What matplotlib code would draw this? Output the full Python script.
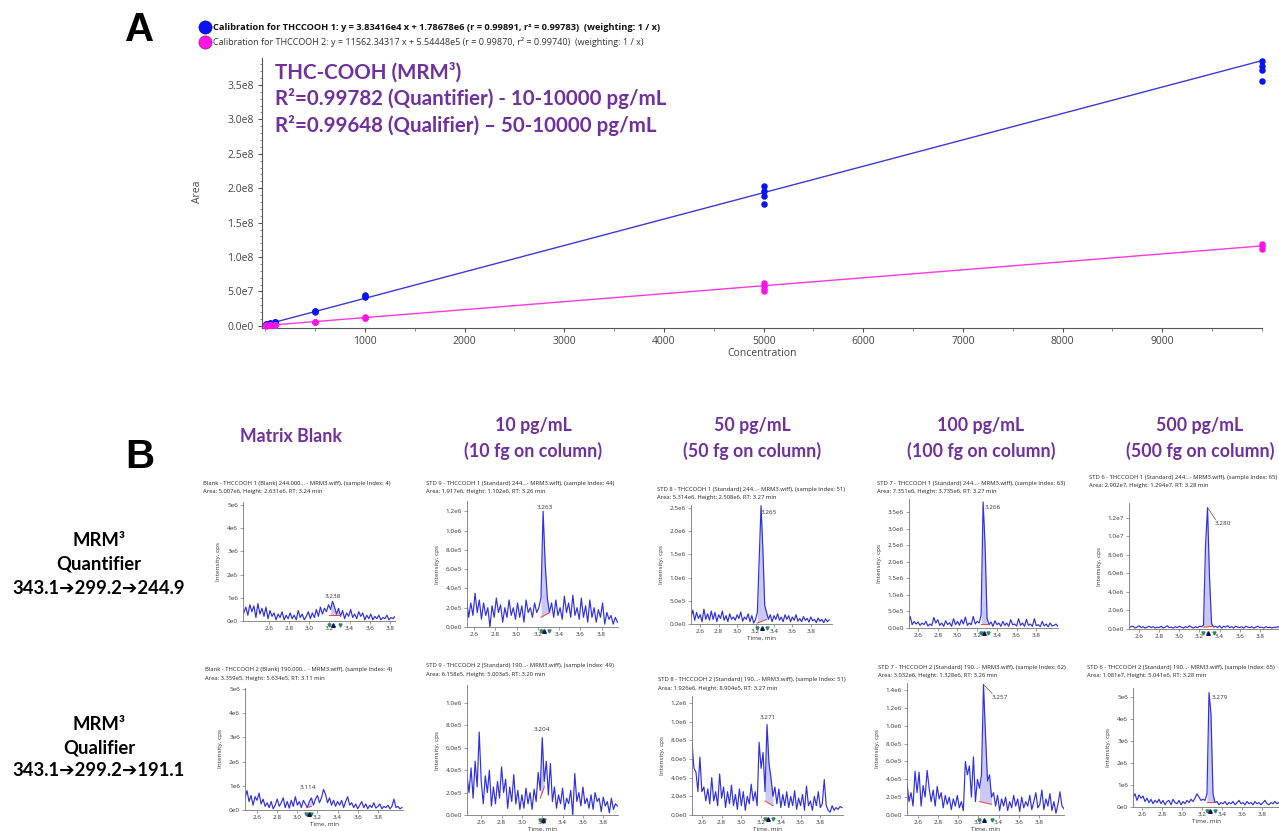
import numpy as np
import matplotlib
matplotlib.use("Agg")
import matplotlib.pyplot as plt
from matplotlib.ticker import FixedLocator, FuncFormatter, MultipleLocator

W, H = 1279, 831
UI = ["Open Sans", "DejaVu Sans"]
HEAD = ["Lato", "DejaVu Sans"]
PURPLE = "#7030a0"

# ---------------- calibration data (panel A) ----------------
quant_slope, quant_intercept = 3.83416e4, 1.78678e6
qual_slope, qual_intercept = 11562.34317, 5.54448e5
quant_conc = [10, 10, 10, 50, 50, 50, 100, 100, 100, 500, 500, 500,
              1000, 1000, 1000, 5000, 5000, 5000, 5000, 10000, 10000, 10000, 10000]
quant_area = [1.9e6, 2.2e6, 2.1e6, 3.6e6, 3.8e6, 3.4e6, 5.3e6, 5.6e6, 5.0e6,
              20.5e6, 21.8e6, 21.0e6, 41.5e6, 44.0e6, 45.5e6,
              177e6, 189e6, 196e6, 203e6, 355e6, 371e6, 377e6, 385e6]
qual_conc = [10, 10, 50, 50, 50, 100, 100, 100, 500, 500, 500,
             1000, 1000, 1000, 5000, 5000, 5000, 5000, 10000, 10000, 10000]
qual_area = [0.6e6, 0.8e6, 1.1e6, 1.2e6, 1.0e6, 1.7e6, 1.8e6, 1.6e6, 5.6e6, 6.0e6, 6.3e6,
             11.0e6, 12.2e6, 13.0e6, 50e6, 54e6, 58e6, 62e6, 112e6, 116e6, 119e6]
calib_xticks = [1000, 2000, 3000, 4000, 5000, 6000, 7000, 8000, 9000]
calib_yticks = [0, 5e7, 1e8, 1.5e8, 2e8, 2.5e8, 3e8, 3.5e8]

legend_lines = [
    "Calibration for THCCOOH 1: y = 3.83416e4 x + 1.78678e6 (r = 0.99891, r\u00b2 = 0.99783)  (weighting: 1 / x)",
    "Calibration for THCCOOH 2: y = 11562.34317 x + 5.54448e5 (r = 0.99870, r\u00b2 = 0.99740)  (weighting: 1 / x)",
]
summary_lines = [
    "THC-COOH (MRM\u00b3)",
    "R\u00b2=0.99782 (Quantifier) - 10-10000 pg/mL",
    "R\u00b2=0.99648 (Qualifier) \u2013 50-10000 pg/mL",
]

# ---------------- chromatograms (panel B) ----------------
SCAN_STEP = 0.02  # min between scans

column_titles = ["Matrix Blank", "10 pg/mL\n(10 fg on column)", "50 pg/mL\n(50 fg on column)",
                 "100 pg/mL\n(100 fg on column)", "500 pg/mL\n(500 fg on column)"]
row_titles = ["MRM\u00b3\nQuantifier\n343.1\u2794299.2\u2794244.9",
              "MRM\u00b3\nQualifier\n343.1\u2794299.2\u2794191.1"]

# Quantifier traces (intensity in units of 1e5 cps unless noted)
q_blank = [3.5, 6.0, 2.5, 7.0, 4.0, 6.5, 1.5, 7.5, 3.0, 5.5, 2.0, 6.0,
           1.0, 4.5, 2.0, 3.5, 0.5, 3.0, 1.5, 4.0, 0.5, 2.5, 1.0, 3.5,
           1.0, 2.5, 0.5, 4.5, 1.5, 3.0, 0.5, 2.0, 4.0, 1.0, 3.5, 1.5,
           5.0, 2.0, 6.0, 3.0, 5.5, 4.0, 7.0, 5.0, 8.5, 6.0, 3.0, 5.5,
           2.0, 4.5, 1.0, 3.5, 2.0, 5.0, 1.5, 3.0, 1.0, 4.0, 2.0, 3.5,
           0.5, 2.5, 1.0, 3.0, 0.5, 2.0, 1.0, 2.5, 0.5, 1.5, 1.0, 2.5,
           0.5, 1.5, 1.0, 2.0]
q_10 = [2.8, 1.0, 2.5, 1.2, 3.5, 1.5, 2.8, 0.8, 2.5, 1.2, 2.0, 0.0,
        2.2, 1.0, 3.0, 1.5, 2.3, 0.5, 2.0, 1.0, 2.8, 1.2, 2.0, 0.8,
        2.5, 1.0, 2.2, 0.5, 2.8, 1.5, 2.0, 1.0, 2.5, 1.5, 2.0, 3.0,
        12.0, 6.5, 3.0, 1.5, 2.5, 1.0, 2.8, 1.2, 2.0, 0.8, 3.2, 1.5,
        2.5, 1.0, 3.3, 1.2, 2.0, 0.8, 3.0, 1.0, 2.2, 0.5, 2.8, 1.0,
        2.0, 0.5, 1.8, 1.0, 2.5, 0.3, 1.5, 0.8, 1.2, 0.3, 1.0, 0.5]
q_50 = [1.5, 3.0, 0.8, 2.5, 1.2, 2.0, 0.5, 3.2, 1.0, 2.2, 0.8, 2.8,
        1.0, 2.5, 0.5, 2.0, 1.2, 2.8, 0.8, 1.8, 0.5, 2.2, 1.0, 1.5,
        0.8, 2.0, 1.2, 2.6, 0.6, 1.5, 1.0, 2.2, 0.5, 1.8, 0.2, 1.0,
        2.5, 14.0, 25.5, 16.0, 4.0, 2.5, 1.0, 2.0, 0.5, 1.8, 1.0, 2.2,
        0.8, 1.5, 0.5, 2.0, 1.0, 1.8, 0.5, 1.5, 0.8, 2.0, 0.6, 1.2,
        0.5, 1.6, 0.8, 1.2, 0.4, 1.5, 0.7, 1.0, 0.3, 1.3, 0.6, 1.0,
        0.3, 1.1, 0.5, 0.9]
q_100 = [1.5, 3.5, 1.0, 2.0, 1.2, 1.8, 0.8, 1.5, 1.0, 2.0, 0.6, 1.2,
         0.8, 3.2, 1.5, 2.5, 0.8, 1.5, 0.5, 2.2, 1.0, 1.6, 0.5, 2.8,
         1.0, 2.0, 0.8, 2.5, 1.2, 3.3, 0.8, 1.5, 1.0, 3.5, 1.2, 2.0,
         1.5, 4.0, 38.0, 25.0, 3.0, 1.0, 1.8, 0.5, 2.2, 1.0, 1.5, 0.5,
         2.0, 0.8, 1.5, 0.5, 2.5, 1.0, 1.2, 0.6, 2.8, 0.8, 1.5, 0.5,
         2.6, 0.8, 1.2, 0.5, 2.8, 0.7, 1.0, 0.4, 2.0, 0.6, 1.2, 0.4,
         1.5, 0.6, 0.8, 1.2, 0.5]
q_500 = [0.15, 0.25, 0.3, 0.1, 0.2, 0.35, 0.15, 0.25, 0.1, 0.2, 0.3, 0.15,   # 1e6 cps
         0.25, 0.1, 0.2, 0.15, 0.3, 0.1, 0.2, 0.35, 0.15, 0.2, 0.1, 0.25,
         0.15, 0.3, 0.2, 0.1, 0.25, 0.15, 0.35, 0.2, 0.1, 0.25, 0.15, 0.3,
         0.25, 0.4, 9.0, 13.1, 5.5, 0.6, 0.2, 0.3, 0.15, 0.35, 0.1, 0.3,
         0.2, 0.35, 0.15, 0.25, 0.1, 0.3, 0.2, 0.15, 0.25, 0.1, 0.3, 0.2,
         0.15, 0.25, 0.1, 0.2, 0.3, 0.15, 0.2, 0.1, 0.25, 0.15, 0.2, 0.1,
         0.2, 0.15, 0.25, 0.1]

# Qualifier traces
l_blank = [5.0, 8.0, 3.5, 6.0, 2.0, 5.5, 4.0, 7.0, 2.5, 4.5, 1.5, 3.0,
           1.0, 3.5, 0.5, 2.0, 4.5, 1.5, 3.0, 5.0, 1.0, 3.5, 0.8, 4.0,
           1.5, 5.5, 2.0, 3.5, 1.0, 4.0, 2.5, 1.0, 3.5, 5.0, 2.0, 4.5,
           6.0, 3.0, 5.0, 8.5, 6.5, 3.0, 5.0, 2.0, 4.0, 1.5, 3.5, 2.0,
           4.0, 1.0, 3.5, 5.5, 2.0, 3.0, 1.0, 2.5, 0.5, 2.0, 3.5, 1.0,
           2.5, 0.5, 2.0, 1.0, 3.0, 0.8, 1.5, 2.5, 0.5, 1.5, 1.0, 2.0,
           0.5, 1.5, 4.5, 1.0, 1.5, 0.5, 1.0]
l_10 = [3.5, 2.0, 4.2, 1.5, 4.8, 2.5, 7.4, 3.0, 1.0, 3.5, 2.0, 4.0,
        0.8, 2.5, 1.0, 3.0, 1.5, 4.3, 2.0, 3.2, 0.6, 2.5, 1.2, 3.6,
        1.0, 2.2, 0.5, 1.8, 0.6, 2.4, 1.0, 2.0, 0.5, 2.3, 1.2, 3.8,
        2.2, 6.9, 3.0, 4.8, 1.8, 4.6, 1.2, 2.5, 0.6, 1.8, 1.0, 2.4,
        0.5, 1.5, 1.0, 2.2, 0.0, 3.7, 1.2, 2.0, 0.8, 2.5, 1.0, 1.5,
        0.6, 1.8, 0.5, 2.0, 1.2, 1.5, 0.3, 1.6, 0.8, 1.2, 0.2, 1.5,
        0.5, 1.0, 0.8]
l_50 = [7.7, 5.0, 4.6, 2.5, 6.2, 2.5, 3.0, 1.5, 2.8, 1.2, 4.0, 1.5,
        2.5, 1.0, 4.4, 1.8, 3.0, 0.8, 2.5, 1.2, 3.2, 1.0, 2.2, 0.6,
        2.8, 1.0, 2.5, 0.5, 2.0, 1.2, 3.3, 1.5, 2.5, 1.0, 7.8, 5.0,
        6.7, 2.5, 9.7, 5.5, 4.0, 2.0, 3.0, 1.2, 2.8, 0.8, 2.2, 1.0,
        2.5, 0.8, 2.0, 1.0, 2.6, 0.6, 1.8, 1.0, 2.2, 0.5, 3.1, 1.0,
        1.5, 0.5, 2.0, 1.0, 2.5, 0.8, 1.2, 3.8, 1.0, 0.5, 0.3, 1.0,
        0.5, 0.8, 0.6, 0.9, 0.8]
l_100 = [3.6, 1.5, 2.5, 1.0, 4.9, 2.5, 4.8, 1.0, 3.3, 2.0, 5.0, 3.0,
         1.5, 2.8, 1.0, 3.2, 1.8, 2.5, 0.8, 2.2, 1.2, 2.0, 0.6, 1.8,
         1.0, 2.2, 0.8, 1.5, 0.5, 6.0, 4.5, 5.5, 2.0, 6.5, 1.5, 4.0,
         3.0, 4.5, 14.6, 9.0, 3.8, 4.5, 2.0, 2.5, 1.0, 2.2, 0.5, 1.8,
         1.0, 2.0, 0.5, 1.5, 0.8, 2.2, 1.0, 1.8, 0.4, 2.0, 0.8, 1.5,
         1.0, 2.2, 0.6, 1.5, 2.5, 0.8, 1.2, 2.8, 0.6, 1.8, 1.0, 2.4,
         0.5, 1.5, 0.2, 1.2, 2.6, 1.0, 0.7]
l_500 = [0.45, 0.6, 0.3, 0.55, 0.4, 0.5, 0.25, 0.4, 0.2, 0.35, 0.15, 0.3,   # 1e6 cps
         0.2, 0.35, 0.15, 0.3, 0.1, 0.25, 0.3, 0.1, 0.35, 0.2, 0.15, 0.3,
         0.1, 0.25, 0.15, 0.3, 0.2, 0.35, 0.25, 0.4, 0.6, 0.45, 0.3, 0.35,
         0.3, 0.6, 5.2, 4.2, 0.6, 0.2, 0.25, 0.1, 0.2, 0.15, 0.25, 0.1,
         0.2, 0.15, 0.25, 0.1, 0.2, 0.3, 0.15, 0.2, 0.1, 0.25, 0.15, 0.2,
         0.1, 0.25, 0.15, 0.2, 0.1, 0.2, 0.3, 0.15, 0.1, 0.2, 0.15, 0.25,
         0.15, 0.2, 0.1]

panel_headers = [
    ("Blank - THCCOOH 1 (Blank) 244.000... - MRM3.wiff), (sample Index: 4)", "Area: 5.007e6, Height: 2.631e6, RT: 3.24 min"),
    ("STD 9 - THCCOOH 1 (Standard) 244...- MRM3.wiff), (sample Index: 44)", "Area: 1.917e6, Height: 1.102e6, RT: 3.26 min"),
    ("STD 8 - THCCOOH 1 (Standard) 244...- MRM3.wiff), (sample Index: 51)", "Area: 5.314e6, Height: 2.508e6, RT: 3.27 min"),
    ("STD 7 - THCCOOH 1 (Standard) 244...- MRM3.wiff), (sample Index: 63)", "Area: 7.351e6, Height: 3.735e6, RT: 3.27 min"),
    ("STD 6 - THCCOOH 1 (Standard) 244...- MRM3.wiff), (sample Index: 65)", "Area: 2.902e7, Height: 1.294e7, RT: 3.28 min"),
    ("Blank - THCCOOH 2 (Blank) 190.000... - MRM3.wiff), (sample Index: 4)", "Area: 3.359e5, Height: 5.634e5, RT: 3.11 min"),
    ("STD 9 - THCCOOH 2 (Standard) 190...- MRM3.wiff), (sample Index: 49)", "Area: 6.158e5, Height: 5.003e5, RT: 3.20 min"),
    ("STD 8 - THCCOOH 2 (Standard) 190...- MRM3.wiff), (sample Index: 51)", "Area: 1.926e6, Height: 8.904e5, RT: 3.27 min"),
    ("STD 7 - THCCOOH 2 (Standard) 190...- MRM3.wiff), (sample Index: 62)", "Area: 3.032e6, Height: 1.328e6, RT: 3.26 min"),
    ("STD 6 - THCCOOH 2 (Standard) 190...- MRM3.wiff), (sample Index: 65)", "Area: 1.081e7, Height: 5.041e6, RT: 3.28 min"),
]
traces = [q_blank, q_10, q_50, q_100, q_500, l_blank, l_10, l_50, l_100, l_500]
trace_units = [1e5, 1e5, 1e5, 1e5, 1e6, 1e5, 1e5, 1e5, 1e5, 1e6]
scan_start = [2.35, 2.53, 2.50, 2.50, 2.50, 2.48, 2.46, 2.50, 2.49, 2.51]
peak_rt = [3.238, 3.263, 3.265, 3.266, 3.280, 3.114, 3.204, 3.271, 3.257, 3.279]
# integration window (start, end) and baseline levels in cps
peak_window = [(3.20, 3.30), (3.23, 3.31), (3.22, 3.32), (3.24, 3.31), (3.24, 3.34),
               (3.09, 3.14), (3.18, 3.22), (3.24, 3.32), (3.21, 3.33), (3.25, 3.33)]
peak_base = [(2.5e5, 2.5e5), (1.0e5, 1.5e5), (0.2e5, 1.0e5), (1.2e5, 1.2e5), (2e5, 3e5),
             (1.0e5, 1.5e5), (1.5e5, 2.5e5), (1.5e5, 1.0e5), (1.5e5, 1.2e5), (0.25e6, 0.25e6)]
ytick_max = [5e6, 1.2e6, 2.5e6, 3.5e6, 1.2e7, 5e6, 1.0e6, 1.2e6, 1.4e6, 5e6]
ytick_step = [1e6, 2e5, 5e5, 5e5, 2e6, 1e6, 2e5, 2e5, 2e5, 1e6]
ytick_dec = [0, 1, 1, 1, 1, 0, 1, 1, 1, 0]

# ---------------- layout (pixels) ----------------
# axes rectangle: left, top, right, bottom ; data limits
panel_rect = [(243, 502, 395, 621), (467, 501, 618, 627), (691, 505, 832, 624),
              (909, 499, 1058, 628), (1129, 503, 1279, 629),
              (245, 688, 403, 810), (467, 685, 618, 815), (692, 696, 843, 815),
              (907, 683, 1064, 815), (1133, 688, 1279, 807)]
panel_xlim = [(2.342, 3.85), (2.534, 3.955), (2.50, 4.03), (2.508, 4.02), (2.50, 3.99),
              (2.48, 4.05), (2.46, 3.945), (2.50, 4.03), (2.49, 4.05), (2.51, 3.97)]
panel_ytop = [5.13e6, 1.306e6, 2.565e6, 3.89e6, 1.36e7, 5.04e6, 1.16e6, 1.275e6, 1.478e6, 5.41e6]
header_pos = [(203, 483), (426, 483), (657, 489), (877, 483), (1089, 477),
              (205, 670), (426, 666), (658, 680), (878, 667), (1087, 667)]
label_pos = [(3.238, 1.07e6), (3.263, 1.24e6), (3.345, 2.41e6), (3.362, 3.64e6), (3.434, 11.4e6),
             (3.105, 0.91e6), (3.197, 0.76e6), (3.271, 1.04e6), (3.413, 1.32e6), (3.38, 5.0e6)]
leader = [False, False, False, False, True, False, False, False, True, False]
show_xlabel = [False, False, True, False, False, True, True, True, True, True]


def sci(v, d):
    if v == 0:
        return "0." + "0" * d + "e0" if d else "0e0"
    e = int(np.floor(np.log10(abs(v)) + 1e-9))
    return f"{v / 10 ** e:.{d}f}e{e}"


fig = plt.figure(figsize=(W / 100, H / 100), dpi=100)
fig.patch.set_facecolor("white")


def px_axes(left, top, right, bottom):
    return fig.add_axes([left / W, 1 - bottom / H, (right - left) / W, (bottom - top) / H])


ov = fig.add_axes([0, 0, 1, 1])
ov.set_xlim(0, W)
ov.set_ylim(H, 0)
ov.axis("off")

# ---------------- panel A ----------------
axA = px_axes(262, 58, 1262, 328)
axA.set_facecolor("none")
axA.set_xlim(-33, 10000)
axA.set_ylim(-3e6, 3.89e8)
xfit = np.array([10.0, 10000.0])
axA.plot(xfit, quant_slope * xfit + quant_intercept, color="#3a3ad8", lw=1.0, zorder=2)
axA.plot(xfit, qual_slope * xfit + qual_intercept, color="#ff38e0", lw=1.0, zorder=2)
axA.scatter(quant_conc, quant_area, s=22, color="#0a14f0", zorder=3, clip_on=False, linewidths=0)
axA.scatter(qual_conc, qual_area, s=22, color="#ff14e6", zorder=3, clip_on=False, linewidths=0)
for s in ("top", "right"):
    axA.spines[s].set_visible(False)
for s in ("left", "bottom"):
    axA.spines[s].set_color("#555555")
    axA.spines[s].set_linewidth(0.8)
axA.xaxis.set_major_locator(FixedLocator(calib_xticks))
axA.xaxis.set_minor_locator(MultipleLocator(500))
axA.yaxis.set_major_locator(FixedLocator(calib_yticks))
axA.yaxis.set_minor_locator(MultipleLocator(1e7))
axA.yaxis.set_major_formatter(FuncFormatter(lambda v, p: sci(v, 1)))
axA.tick_params(axis="both", which="major", labelsize=7.5, length=3, color="#555555",
                labelcolor="#444444", pad=3)
axA.tick_params(axis="both", which="minor", length=1.8, color="#777777")
for lab in axA.get_xticklabels() + axA.get_yticklabels():
    lab.set_family(UI)
ov.text(197, 192, "Area", rotation=90, ha="center", va="center", fontsize=7.5,
        color="#444444", family=UI)
ov.text(762, 354, "Concentration", ha="center", va="center", fontsize=7.5,
        color="#444444", family=UI)

# legend of the calibration curves
ov.plot([205], [27], marker="o", ms=9.5, color="#0a14f0", mec="#000088", mew=0.4)
ov.plot([205], [42], marker="o", ms=9.5, color="#ff14e6", mec="#880077", mew=0.4)
ov.text(213, 27, legend_lines[0], ha="left", va="center", fontsize=6.7, weight="bold",
        color="#111111", family=UI)
ov.text(213, 42, legend_lines[1], ha="left", va="center", fontsize=6.45,
        color="#333333", family=UI)

for i, line in enumerate(summary_lines):
    ov.text(275, 72 + i * 26.5, line, ha="left", va="center", fontsize=14.8,
            weight="bold", color=PURPLE, family=HEAD)

ov.text(140, 30, "A", ha="center", va="center", fontsize=29, weight="bold",
        color="black", family=["Liberation Sans", "DejaVu Sans"])
ov.text(140, 457, "B", ha="center", va="center", fontsize=29, weight="bold",
        color="black", family=["Liberation Sans", "DejaVu Sans"])

# ---------------- panel B headers ----------------
col_centres = [291, 533, 752, 981, 1200]
for cx, title in zip(col_centres, column_titles):
    parts = title.split("\n")
    if len(parts) == 1:
        ov.text(cx, 437, parts[0], ha="center", va="center", fontsize=12.8,
                weight="bold", color=PURPLE, family=HEAD)
    else:
        ov.text(cx, 425, parts[0], ha="center", va="center", fontsize=12.8,
                weight="bold", color=PURPLE, family=HEAD)
        ov.text(cx, 451, parts[1], ha="center", va="center", fontsize=12.8,
                weight="bold", color=PURPLE, family=HEAD)

for ry, title in zip([541, 724], row_titles):
    for j, part in enumerate(title.split("\n")):
        ov.text(99, ry + j * 23.5, part, ha="center", va="center", fontsize=13.3,
                weight="bold", color="black", family=HEAD)

# ---------------- chromatogram panels ----------------
for k in range(10):
    vals = np.asarray(traces[k]) * trace_units[k]
    t = scan_start[k] + SCAN_STEP * np.arange(len(vals))
    ax = px_axes(*panel_rect[k])
    ax.set_facecolor("none")
    ax.set_xlim(*panel_xlim[k])
    ax.set_ylim(0, panel_ytop[k])

    s0, s1 = peak_window[k]
    b0, b1 = peak_base[k]
    m = (t >= s0 - 1e-9) & (t <= s1 + 1e-9)
    base = np.interp(t[m], [s0, s1], [b0, b1])
    ax.fill_between(t[m], base, vals[m], color="#c9c9f4", lw=0, zorder=1)
    ax.plot(t, vals, color="#3030e0", lw=0.85, zorder=2)
    ax.plot([s0, s1], [b0, b1], color="#ff4040", lw=0.7, zorder=3)

    ytop = panel_ytop[k]
    ax.plot([s0, s1], [-0.035 * ytop] * 2, ls="none", marker="v", ms=2.2,
            color="#2e8b57", clip_on=False, zorder=4)
    ax.plot([peak_rt[k]], [-0.035 * ytop], ls="none", marker="^", ms=2.6,
            color="#101060", clip_on=False, zorder=4)

    lx, ly = label_pos[k]
    ax.text(lx, ly, f"{peak_rt[k]:.3f}", ha="center", va="center", fontsize=4.6,
            color="#333333", family=UI)
    if leader[k]:
        apex = int(np.argmax(vals))
        ax.plot([t[apex], lx - 0.05 * (panel_xlim[k][1] - panel_xlim[k][0])],
                [vals[apex], ly + 0.03 * ytop], color="#555555", lw=0.5)

    for s in ("top", "right"):
        ax.spines[s].set_visible(False)
    for s in ("left", "bottom"):
        ax.spines[s].set_color("#777777")
        ax.spines[s].set_linewidth(0.6)
    ax.xaxis.set_major_locator(FixedLocator([2.6, 2.8, 3.0, 3.2, 3.4, 3.6, 3.8]))
    ax.xaxis.set_major_formatter(FuncFormatter(lambda v, p: f"{v:.1f}"))
    yt = np.arange(0, ytick_max[k] + ytick_step[k] / 2, ytick_step[k])
    ax.yaxis.set_major_locator(FixedLocator(yt))
    d = ytick_dec[k]
    ax.yaxis.set_major_formatter(FuncFormatter(lambda v, p, d=d: sci(v, d)))
    ax.tick_params(axis="both", labelsize=4.6, length=2, width=0.5, color="#777777",
                   labelcolor="#333333", pad=1.5)
    for lab in ax.get_xticklabels() + ax.get_yticklabels():
        lab.set_family(UI)
    ax.set_ylabel("Intensity, cps", fontsize=4.6, color="#333333", family=UI, labelpad=4)
    if show_xlabel[k]:
        ax.set_xlabel("Time, min", fontsize=4.6, color="#333333", family=UI, labelpad=1.5)

    hx, hy = header_pos[k]
    ov.text(hx, hy, panel_headers[k][0], ha="left", va="center", fontsize=4.2,
            color="#222222", family=UI)
    ov.text(hx, hy + 8.5, panel_headers[k][1], ha="left", va="center", fontsize=4.2,
            color="#222222", family=UI)

fig.savefig("out.png", dpi=100, facecolor="white")
